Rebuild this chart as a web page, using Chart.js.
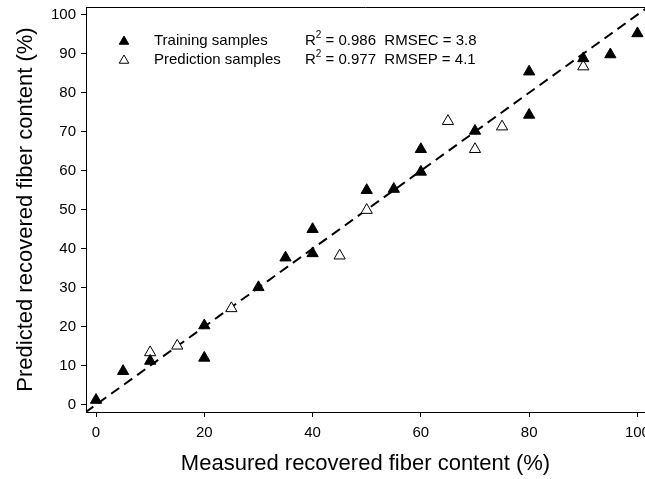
<!DOCTYPE html>
<html>
<head>
<meta charset="utf-8">
<script src="https://cdn.jsdelivr.net/npm/chart.js@4.4.1/dist/chart.umd.min.js"></script>
<style>
  html, body { margin: 0; padding: 0; background: #fff; }
  #wrap { width: 645px; height: 479px; }
</style>
</head>
<body>
<div id="wrap"><canvas id="chart"></canvas></div>
<script>
// data
const xTicks = [0, 20, 40, 60, 80, 100];
const yTicks = [0, 10, 20, 30, 40, 50, 60, 70, 80, 90, 100];

const trainMeasured  = [0, 5, 10, 20, 20, 30, 35, 40, 40, 50, 55, 60, 60, 70, 80, 80, 90, 95, 100];
const trainPredicted = [1.2, 8.6, 11.2, 20.3, 12, 30.1, 37.7, 38.8, 45, 55, 55.3, 59.7, 65.5, 70.2, 74.3, 85.4, 88.8, 89.8, 95.2];

const predMeasured  = [10, 15, 25, 45, 50, 65, 70, 75, 90];
const predPredicted = [13.4, 15.1, 24.7, 38.2, 49.9, 72.7, 65.5, 71.3, 86.7];

// 1:1 line
const oneToOne = [-2, 105];

const FONT = "'Liberation Sans', Arial, sans-serif";

const toPoints = (xs, ys) => xs.map((x, i) => ({ x: x, y: ys[i] }));

// no extra room for edge labels, the reference lets "100" run off the page
const noPadding = s => {
  s.paddingLeft = 0; s.paddingRight = 0;
  s.paddingTop = 0; s.paddingBottom = 0;
};

// top line of the frame (right side is cut off in the reference)
const framePlugin = {
  id: 'frame',
  beforeDatasetsDraw(chart) {
    const { ctx, chartArea: a } = chart;
    const y = Math.round(a.top) + 0.5;
    ctx.save();
    ctx.strokeStyle = '#000';
    ctx.lineWidth = 1;
    ctx.beginPath();
    ctx.moveTo(a.left, y);
    ctx.lineTo(a.right, y);
    ctx.stroke();
    ctx.restore();
  }
};

// legend with statistics, inside the plot
const statsPlugin = {
  id: 'stats',
  afterDraw(chart) {
    const { ctx, chartArea: a } = chart;
    const rows = [
      { fill: '#000', label: 'Training samples', r2: '0.986', rest: 'RMSEC = 3.8' },
      { fill: '#fff', label: 'Prediction samples', r2: '0.977', rest: 'RMSEP = 4.1' }
    ];
    ctx.save();
    ctx.textBaseline = 'middle';
    rows.forEach((row, i) => {
      const y = a.top + 34 + i * 19;
      ctx.fillStyle = row.fill;
      ctx.strokeStyle = '#000';
      ctx.lineWidth = 1;
      Chart.helpers.drawPoint(ctx, { pointStyle: 'triangle', radius: 5.5, rotation: 0, borderWidth: 1 }, a.left + 38, y + 0.5);
      ctx.fillStyle = '#000';
      ctx.font = '15px ' + FONT;
      ctx.fillText(row.label, a.left + 68, y);
      let x = a.left + 219;
      ctx.fillText('R', x, y);
      x += ctx.measureText('R').width;
      ctx.font = '10px ' + FONT;
      ctx.fillText('2', x, y - 6);
      x += ctx.measureText('2').width;
      ctx.font = '15px ' + FONT;
      ctx.fillText(' = ' + row.r2 + '  ' + row.rest, x, y);
    });
    ctx.restore();
  }
};

new Chart(document.getElementById('chart'), {
  type: 'scatter',
  data: {
    datasets: [{
      label: 'Training samples',
      data: toPoints(trainMeasured, trainPredicted),
      pointStyle: 'triangle',
      radius: 6.5,
      backgroundColor: '#000',
      borderColor: '#000',
      borderWidth: 1
    }, {
      label: 'Prediction samples',
      data: toPoints(predMeasured, predPredicted),
      pointStyle: 'triangle',
      radius: 6.5,
      backgroundColor: '#fff',
      borderColor: '#000',
      borderWidth: 1
    }, {
      type: 'line',
      label: '1:1',
      data: toPoints(oneToOne, oneToOne),
      borderColor: '#000',
      borderWidth: 2,
      borderDash: [10, 6],
      pointRadius: 0,
      fill: false
    }]
  },
  options: {
    responsive: true,
    maintainAspectRatio: false,
    animation: false,
    layout: { autoPadding: false, padding: { top: 7, right: 0, left: 0, bottom: 0 } },
    plugins: {
      legend: { display: false },
      tooltip: { enabled: false }
    },
    scales: {
      x: {
        type: 'linear',
        min: -1.85,
        max: 101.4,
        afterBuildTicks: s => { s.ticks = xTicks.map(v => ({ value: v })); },
        afterFit: s => { s.height = 67; noPadding(s); },
        grid: { drawOnChartArea: false, drawTicks: true, tickLength: 5, color: '#000' },
        border: { display: true, color: '#000', width: 1 },
        ticks: { color: '#000', font: { family: FONT, size: 15 }, padding: 7, maxRotation: 0, autoSkip: false },
        title: { display: true, text: 'Measured recovered fiber content (%)', color: '#000',
          font: { family: FONT, size: 22 }, padding: { top: 0, bottom: 2 } }
      },
      y: {
        type: 'linear',
        min: -1.87,
        max: 101.98,
        afterBuildTicks: s => { s.ticks = yTicks.map(v => ({ value: v })); },
        afterFit: s => { s.width = 86; noPadding(s); },
        grid: { drawOnChartArea: false, drawTicks: true, tickLength: 5, color: '#000' },
        border: { display: true, color: '#000', width: 1 },
        ticks: { color: '#000', font: { family: FONT, size: 15 }, padding: 5, autoSkip: false },
        title: { display: true, text: 'Predicted recovered fiber content (%)', color: '#000',
          font: { family: FONT, size: 22 }, padding: { top: 13, bottom: 0 } }
      }
    }
  },
  plugins: [framePlugin, statsPlugin]
});
</script>
</body>
</html>
